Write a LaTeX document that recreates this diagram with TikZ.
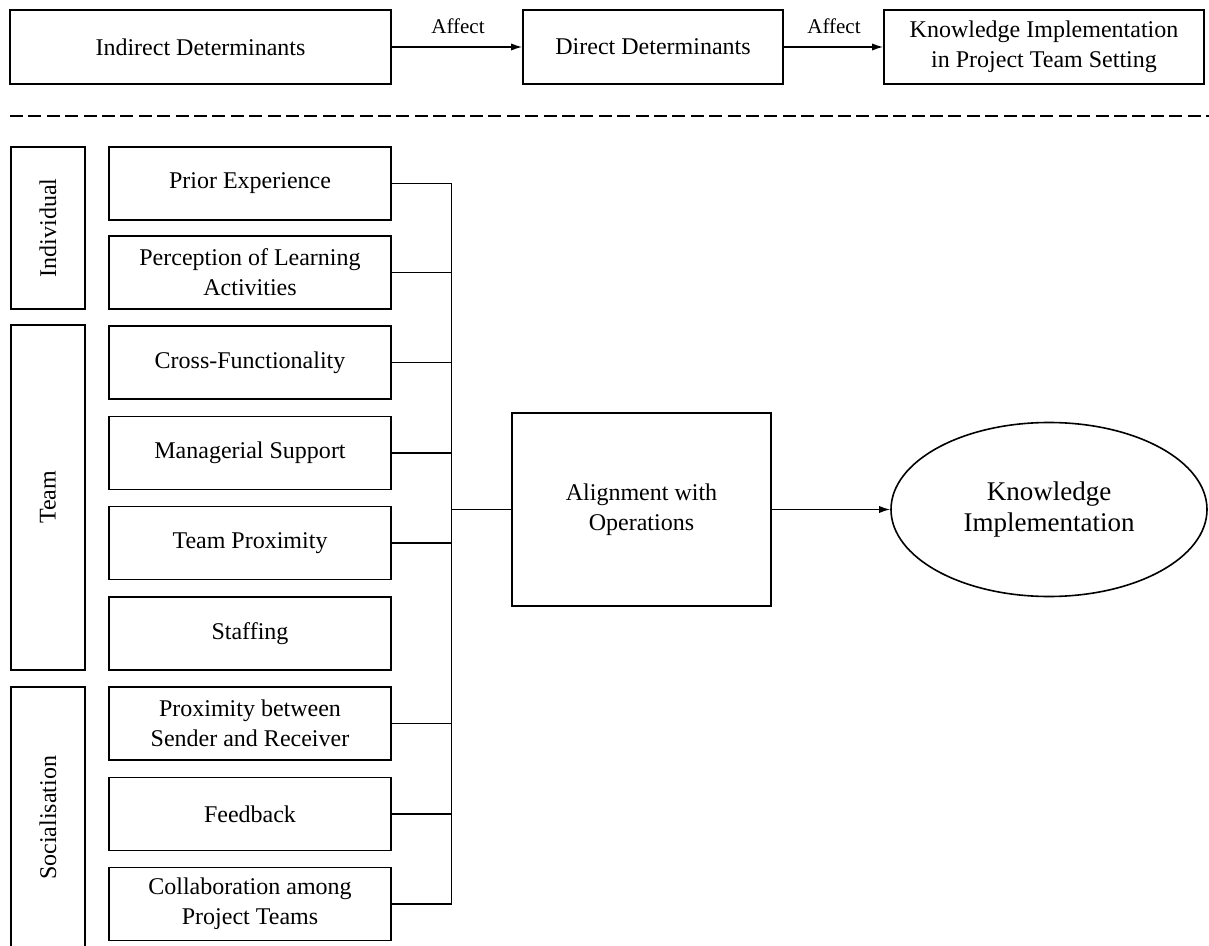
\documentclass[tikz,border=0pt]{standalone}
\usepackage{fontspec}
\setmainfont{Liberation Serif}
\usetikzlibrary{arrows.meta,shapes.geometric}

\tikzset{
  frame/.style={draw, line width=0.8pt, align=center, inner sep=0pt,
    font=\fontsize{12}{15}\selectfont},
  topbox/.style={frame, minimum height=37pt},
  itembox/.style={frame, minimum width=141pt, minimum height=36.5pt},
  catbox/.style={frame, rotate=90, minimum height=37pt},
  link/.style={line width=0.75pt},
  flow/.style={line width=0.75pt, -{Latex[length=5.5pt,width=3.6pt]}},
  affect/.style={font=\fontsize{10.5}{12}\selectfont, inner sep=0pt}
}

\begin{document}
\begin{tikzpicture}[x=0.5pt,y=-0.5pt]
\clip (0,0) rectangle (1209,946);

% upper chain of determinants
\node[topbox, minimum width=190.5pt] (ind) at (200.5,47) {Indirect Determinants};
\node[topbox, minimum width=130pt] (dir) at (653,47) {Direct Determinants};
\node[topbox, minimum width=160pt] (kis) at (1044,47) {Knowledge Implementation\\in Project Team Setting};
\draw[flow] (ind.east) -- (dir.west);
\draw[flow] (dir.east) -- (kis.west);
\node[affect] (a1) at (458,26) {Affect};
\node[affect] (a2) at (834,26) {Affect};

% separator
\coordinate (sepL) at (10,116);
\coordinate (sepR) at (1209,116);
\draw[line width=0.9pt, dash pattern=on 6.5pt off 2.7pt] (sepL) -- (sepR);

% category columns
\node[catbox, minimum width=81pt] (cind) at (48,228) {Individual};
\node[catbox, minimum width=172.5pt] (cteam) at (48,497.5) {Team};
\node[catbox, minimum width=131pt] (csoc) at (48,818) {Socialisation};

% determinant boxes
\node[itembox] (p1) at (250,183.5) {Prior Experience};
\node[itembox] (p2) at (250,272.5) {Perception of Learning\\Activities};
\node[itembox] (p3) at (250,362.5) {Cross-Functionality};
\node[itembox] (p4) at (250,453) {Managerial Support};
\node[itembox] (p5) at (250,543) {Team Proximity};
\node[itembox] (p6) at (250,633.5) {Staffing};
\node[itembox] (p7) at (250,723.5) {Proximity between\\Sender and Receiver};
\node[itembox] (p8) at (250,814) {Feedback};
\node[itembox] (p9) at (250,904) {Collaboration among\\Project Teams};

% mediator and outcome
\node[frame, minimum width=129.5pt, minimum height=96.5pt] (align) at (641.5,509.5) {Alignment with\\Operations};
\node[draw, ellipse, line width=0.8pt, inner sep=0pt, align=center,
  minimum width=158pt, minimum height=87pt,
  font=\fontsize{13.5}{15.5}\selectfont] (ki) at (1049,509.5) {Knowledge\\Implementation};

% collecting bus
\coordinate (bus) at (451.5,509.5);
\foreach \n in {p1,p2,p3,p4,p5,p7,p8,p9}
  \draw[link] (\n.east) -- (\n.east -| bus);
\draw[link] (p1.east -| bus) -- (p9.east -| bus);
\draw[link] (bus) -- (align.west);
\draw[flow] (align.east) -- (ki.west);
\end{tikzpicture}
\end{document}
